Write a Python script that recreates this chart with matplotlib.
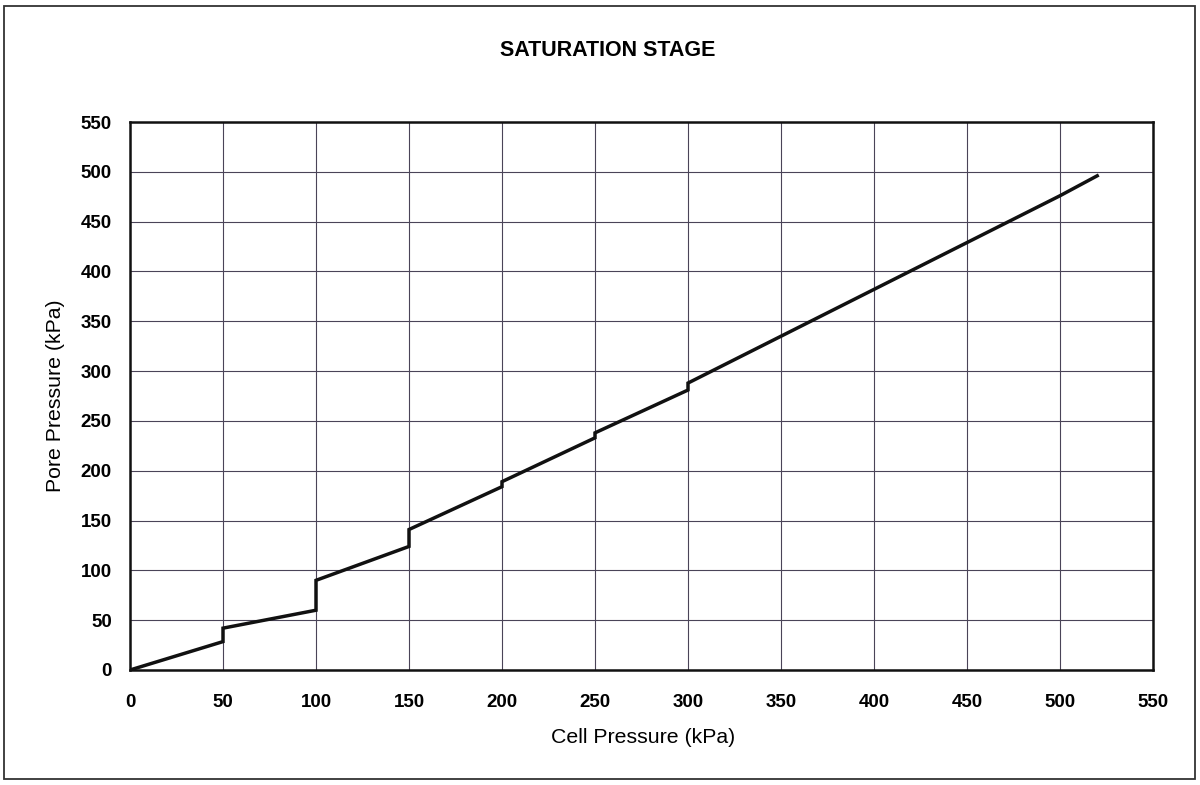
import matplotlib
matplotlib.use("Agg")
import matplotlib.pyplot as plt
from matplotlib.patches import Rectangle

# Data
cell_pressure = [0, 50, 50, 100, 100, 150, 150, 200, 200, 250, 250, 300, 300, 350, 400, 450, 500, 520]
pore_pressure = [0, 28.5, 42, 60, 90, 124, 141, 184, 189, 233, 238, 281, 288, 335, 382, 429, 476, 496]
x_ticks = list(range(0, 551, 50))
y_ticks = list(range(0, 551, 50))

plt.rcParams['font.family'] = ['Liberation Sans', 'DejaVu Sans']

W, H = 1200, 785
fig = plt.figure(figsize=(W / 100, H / 100), dpi=100)
fig.patch.set_facecolor('white')

# page border
fig.patches.append(Rectangle((4 / W, 6 / H), (1195 - 4) / W, (779 - 6) / H,
                             transform=fig.transFigure, fill=False,
                             edgecolor='#333333', linewidth=1.3))

ax = fig.add_axes([130 / W, 1 - 670 / H, (1153 - 130) / W, (670 - 122) / H])
ax.plot(cell_pressure, pore_pressure, color='#111111', linewidth=2.5,
        solid_joinstyle='miter', zorder=3)

ax.set_xlim(0, 550)
ax.set_ylim(0, 550)
ax.set_xticks(x_ticks)
ax.set_yticks(y_ticks)
ax.set_xticklabels([str(v) for v in x_ticks], fontsize=13.5, fontweight='bold')
ax.set_yticklabels([str(v) for v in y_ticks], fontsize=13.5, fontweight='bold')
ax.tick_params(axis='both', length=0)
ax.tick_params(axis='x', pad=17)
ax.tick_params(axis='y', pad=13)
ax.grid(True, color='#4a4458', linewidth=0.8)
ax.set_axisbelow(True)
for s in ax.spines.values():
    s.set_linewidth(1.8)
    s.set_color('#111111')

ax.set_xlabel('Cell Pressure (kPa)', fontsize=15.3)
ax.set_ylabel('Pore Pressure (kPa)', fontsize=15.3)
ax.xaxis.set_label_coords(0.5015, -0.1225)
ax.yaxis.set_label_coords(-0.0733, 0.5)
ax.xaxis.label.set_va('center')
ax.yaxis.label.set_va('center')

fig.text(608 / W, 1 - 50 / H, 'SATURATION STAGE', ha='center', va='center',
         fontsize=15.5, fontweight='bold')

fig.savefig('out.png', dpi=100, facecolor='white')
